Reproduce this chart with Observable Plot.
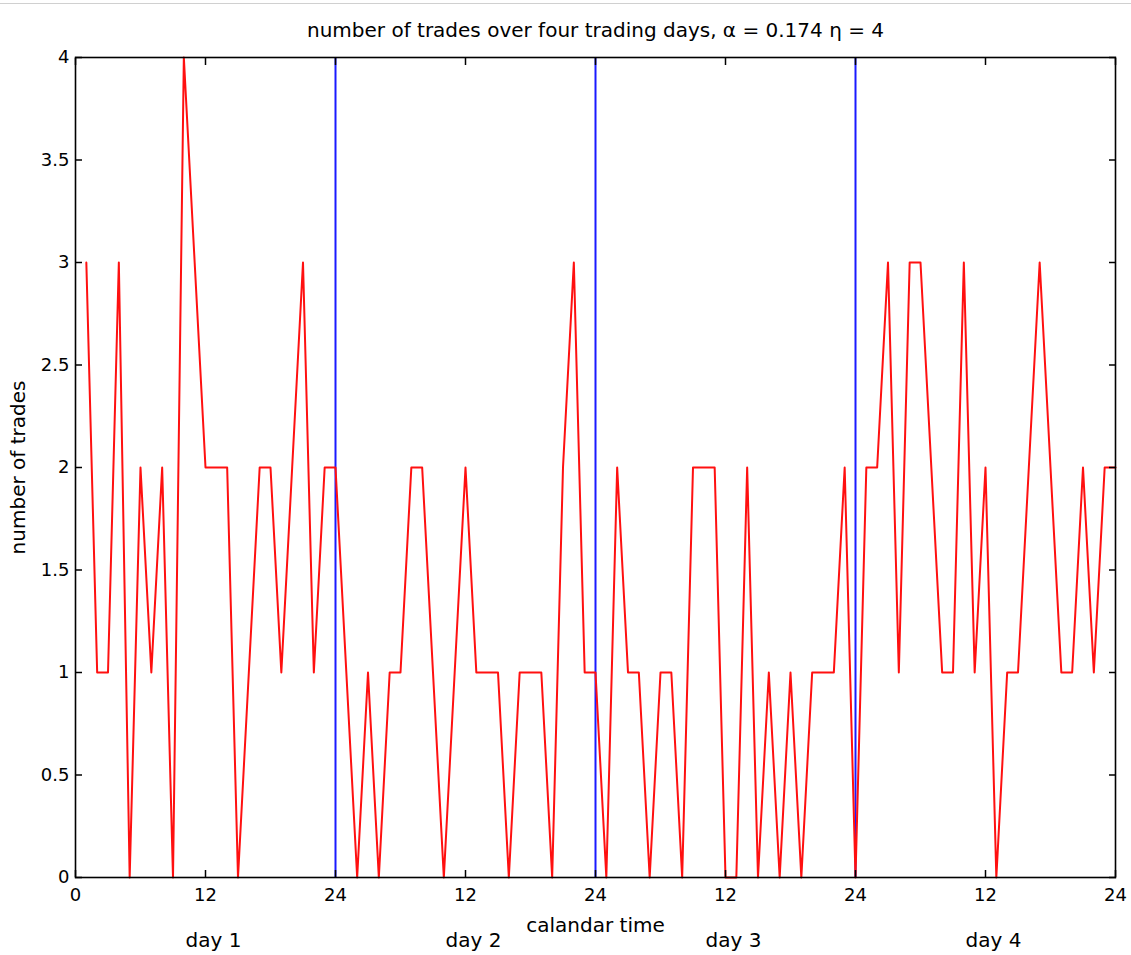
<!DOCTYPE html>
<html>
<head>
<meta charset="utf-8">
<script src="https://cdn.jsdelivr.net/npm/d3@7"></script>
<script src="https://cdn.jsdelivr.net/npm/@observablehq/plot@0.6"></script>
<style>
  html, body { margin: 0; padding: 0; background: #fff; }
  #wrap { position: relative; width: 1131px; height: 955px; }
  #topline { position: absolute; left: 0; top: 3px; width: 1131px; height: 1px; background: #d0d0d0; }
</style>
</head>
<body>
<div id="wrap"><div id="topline"></div><div id="chart"></div></div>
<script>
// Hourly number of trades, one array per trading day (hours 1..24 of each day)
const day1Trades = [3,1,1,3,0,2,1,2,0,4,3,2,2,2,0,1,2,2,1,2,3,1,2,2];
const day2Trades = [1,0,1,0,1,1,2,2,1,0,1,2,1,1,1,0,1,1,1,0,2,3,1,1];
const day3Trades = [0,2,1,1,0,1,1,0,2,2,2,0,0,2,0,1,0,1,0,1,1,1,2,0];
const day4Trades = [2,2,3,1,3,3,2,1,1,3,1,2,0,1,1,2,3,2,1,1,2,1,2,2];

const dayNames = ["day 1", "day 2", "day 3", "day 4"];
const dayBoundaries = [24, 48, 72];
const xTicks = [0, 12, 24, 36, 48, 60, 72, 84, 96];
const xTickLabels = ["0", "12", "24", "12", "24", "12", "24", "12", "24"];
const yTicks = [0, 0.5, 1, 1.5, 2, 2.5, 3, 3.5, 4];
const yTickLabels = ["0", "0.5", "1", "1.5", "2", "2.5", "3", "3.5", "4"];
const hoursPerDay = 24;

const titleText = "number of trades over four trading days, \u03b1 = 0.174 \u03b7 = 4";
const xLabelText = "calandar time";
const yLabelText = "number of trades";

const days = [day1Trades, day2Trades, day3Trades, day4Trades];
const data = days.flatMap((arr, d) => arr.map((v, i) => ({hour: d * hoursPerDay + i + 1, trades: v})));
const dayMid = dayNames.map((name, d) => ({name, x: d * hoursPerDay + hoursPerDay / 2}));

const font = "'DejaVu Sans', Verdana, sans-serif";

const chart = Plot.plot({
  width: 1131,
  height: 955,
  marginLeft: 75,
  marginRight: 16,
  marginTop: 57,
  marginBottom: 78,
  style: {fontFamily: font, fontSize: "18px", color: "black", background: "transparent"},
  x: {domain: [0, 96]},
  y: {domain: [0, 4]},
  marks: [
    Plot.ruleX(dayBoundaries, {stroke: "#1a1aff", strokeWidth: 2}),
    Plot.line(data, {x: "hour", y: "trades", stroke: "#ff1010", strokeWidth: 2}),
    Plot.frame({stroke: "black", strokeWidth: 1.6}),
    // inward ticks
    Plot.axisX(xTicks, {anchor: "bottom", tickSize: -7, fill: "none", label: null, stroke: "black", strokeWidth: 1.5}),
    Plot.axisX(xTicks, {anchor: "top", tickSize: -7, fill: "none", label: null, stroke: "black", strokeWidth: 1.5}),
    Plot.axisY(yTicks, {anchor: "left", tickSize: -7, fill: "none", label: null, stroke: "black", strokeWidth: 1.5}),
    Plot.axisY(yTicks, {anchor: "right", tickSize: -7, fill: "none", label: null, stroke: "black", strokeWidth: 1.5}),
    // tick labels
    Plot.axisX(xTicks, {anchor: "bottom", tickSize: 0, tickPadding: 11, label: null, tickFormat: (d, i) => xTickLabels[i], fontSize: 18}),
    Plot.axisY(yTicks, {anchor: "left", tickSize: 0, tickPadding: 6, label: null, tickFormat: (d, i) => yTickLabels[i], fontSize: 18}),
    // titles
    Plot.text([titleText], {frameAnchor: "top", lineAnchor: "middle", textAnchor: "middle", dy: -27, fontSize: 20, fill: "black"}),
    Plot.text([xLabelText], {x: [48], frameAnchor: "bottom", lineAnchor: "middle", textAnchor: "middle", dy: 48, fontSize: 20, fill: "black"}),
    Plot.text(dayMid, {x: "x", text: "name", frameAnchor: "bottom", lineAnchor: "middle", textAnchor: "middle", dy: 63, dx: 8, fontSize: 20, fill: "black"}),
    Plot.text([yLabelText], {frameAnchor: "left", lineAnchor: "middle", textAnchor: "middle", rotate: -90, dx: -57, fontSize: 20, fill: "black"})
  ]
});
document.getElementById("chart").appendChild(chart);
</script>
</body>
</html>
